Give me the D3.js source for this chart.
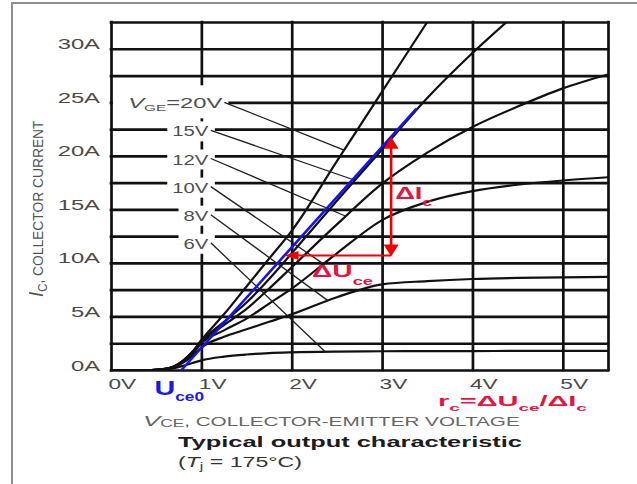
<!DOCTYPE html>
<html>
<head>
<meta charset="utf-8">
<script src="https://cdn.jsdelivr.net/npm/d3@7"></script>
<style>
  body { margin: 0; background: #fff; }
  svg { display: block; font-family: "Liberation Sans", Arial, sans-serif; }
</style>
</head>
<body>
<script>
// Collector-emitter voltage samples (V)
const vce = [0, 0.45, 0.6, 0.7, 0.8, 0.9, 1.0, 1.25, 1.5, 1.75, 2.0, 2.5, 3.0, 3.5, 4.0, 4.5, 5.0, 5.5];
// Gate-emitter voltages of the curve family (V)
const vgeLevels = [20, 15, 12, 10, 8, 6];
// Collector current for each gate voltage (A); null = beyond the chart
const ic20 = [0, 0, 0.1, 0.35, 0.9, 1.7, 2.8, 5.2, 7.8, 10.4, 13.0, 19.5, 26.0, 32.5, null, null, null, null];
const ic15 = [0, 0, 0.1, 0.33, 0.88, 1.65, 2.7, 4.5, 6.3, 8.5, 10.9, 15.8, 20.6, 25.4, 29.6, 33.4, null, null];
const ic12 = [0, 0, 0.1, 0.32, 0.85, 1.6, 2.6, 4.2, 5.7, 7.6, 9.6, 13.6, 17.4, 20.3, 22.7, 24.6, 26.3, 27.6];
const ic10 = [0, 0, 0.1, 0.3, 0.8, 1.5, 2.5, 3.7, 4.8, 6.2, 7.6, 10.9, 14.0, 15.7, 16.7, 17.3, 17.7, 18.0];
const ic8  = [0, 0, 0.08, 0.28, 0.7, 1.3, 2.1, 3.1, 3.8, 4.5, 5.2, 6.8, 8.0, 8.3, 8.5, 8.6, 8.65, 8.7];
const ic6  = [0, 0, 0.05, 0.18, 0.4, 0.65, 0.9, 1.25, 1.45, 1.58, 1.65, 1.72, 1.75, 1.76, 1.77, 1.78, 1.78, 1.78];
const curveLabels = ["=20V", "15V", "12V", "10V", "8V", "6V"];

// Axis ticks
const xTicks = [0, 1, 2, 3, 4, 5];
const yTicks = [0, 5, 10, 15, 20, 25, 30];
const xGrid = [0, 1, 2, 3, 4, 5, 5.5];
const yGrid = [0, 2.5, 5, 7.5, 10, 12.5, 15, 17.5, 20, 22.5, 25, 27.5, 30, 32.5];

// Tangent line of the 15 V curve: threshold voltage U_ce0 and upper end point
const uce0 = 0.78;
const tangentEnd = [3.38, 24.4];
// Construction of the differential resistance
const deltaBaseI = 10.7;   // A, level of the ΔUce arrow
const deltaIcAtV = 3.1;    // V, position of the ΔIc arrow

const W = 637, H = 484;
const SX = 1.7; // horizontal stretch of the lettering

const svg = d3.select("body").append("svg").attr("width", W).attr("height", H);

const x = d3.scaleLinear().domain([0, 5.5]).range([111, 608]);
const y = d3.scaleLinear().domain([0, 32.5]).range([370, 22]);

// Outer frame (top and left edge)
svg.append("path").attr("d", `M12,${H} V3 H${W}`)
  .attr("fill", "none").attr("stroke", "#8e8e8e").attr("stroke-width", 2);

// Grid
const gridColor = "#111";
const plotW = x(5.5) - x(0), plotH = y(0) - y(32.5);
const gy = svg.append("g").attr("transform", `translate(${x(0)},0)`)
  .call(d3.axisLeft(y).tickValues(yGrid).tickSize(-plotW).tickFormat(""));
const gx = svg.append("g").attr("transform", `translate(0,${y(0)})`)
  .call(d3.axisBottom(x).tickValues(xGrid).tickSize(-plotH).tickFormat(""));
[gy, gx].forEach(g => {
  g.select(".domain").remove();
  g.selectAll("line").attr("stroke", gridColor).attr("stroke-width", 2.7).attr("stroke-linecap", "square");
});

// Tick labels
const ly = svg.append("g").attr("transform", `translate(${x(0)},0)`)
  .call(d3.axisLeft(y).tickValues(yTicks).tickSize(0).tickFormat(d => d + "A"));
ly.select(".domain").remove();
ly.selectAll("text").attr("x", null).attr("dy", null)
  .attr("transform", `translate(-11,0) scale(${SX},1)`)
  .attr("font-size", 14).attr("fill", "#4a4a4a")
  .attr("font-family", "Liberation Sans, Arial, sans-serif");

const lx = svg.append("g").attr("transform", `translate(0,${y(0)})`)
  .call(d3.axisBottom(x).tickValues(xTicks).tickSize(0).tickFormat(d => d + "V"));
lx.select(".domain").remove();
lx.selectAll("text").attr("y", null).attr("dy", null).attr("text-anchor", "start")
  .attr("transform", `translate(-3,19) scale(1.62,1)`)
  .attr("font-size", 14).attr("fill", "#4a4a4a")
  .attr("font-family", "Liberation Sans, Arial, sans-serif");

// Layers
const maskLayer = svg.append("g");
const curveLayer = svg.append("g");
const leaderLayer = svg.append("g");
const labelLayer = svg.append("g");
const annoLayer = svg.append("g");

svg.append("clipPath").attr("id", "plot-clip").append("rect")
  .attr("x", x(0)).attr("y", y(32.5)).attr("width", plotW).attr("height", plotH);

const series = [ic20, ic15, ic12, ic10, ic8, ic6].map((ic, i) => ({
  vge: vgeLevels[i],
  points: vce.map((v, j) => [v, ic[j]])
}));

const line = d3.line()
  .defined(d => d[1] != null)
  .x(d => x(d[0])).y(d => y(d[1]))
  .curve(d3.curveMonotoneX);

curveLayer.attr("clip-path", "url(#plot-clip)")
  .selectAll("path").data(series).join("path")
  .attr("d", d => line(d.points))
  .attr("fill", "none").attr("stroke", "#111").attr("stroke-width", 2.2);

function currentAt(points, v) {
  const pts = points.filter(p => p[1] != null);
  const i = Math.max(1, Math.min(pts.length - 1, d3.bisector(p => p[0]).left(pts, v)));
  const a = pts[i - 1], b = pts[i];
  return a[1] + (b[1] - a[1]) * (v - a[0]) / (b[0] - a[0]);
}

// Curve labels with leader lines
const leaderTipV = [2.58, 2.7, 2.6, 2.35, 2.4, 2.37];
series.forEach((s, i) => {
  const baseY = y(25) + 6 + i * 28.1;
  const endX = i === 0 ? x(1) + 21 : x(1) + 7;
  const sx = i === 0 ? SX : 1.45;
  const t = labelLayer.append("text")
    .attr("text-anchor", "end")
    .attr("transform", `translate(${endX},${baseY}) scale(${sx},1)`)
    .attr("font-size", 14).attr("fill", "#4f4f4f");
  if (i === 0) {
    t.append("tspan").attr("font-style", "italic").text("V");
    t.append("tspan").attr("font-size", 9).attr("dy", 3).text("GE");
    t.append("tspan").attr("dy", -3).text(curveLabels[0]);
  } else {
    t.text(curveLabels[i]);
  }
  const bb = t.node().getBoundingClientRect();
  const cy = baseY - 5;
  const rx0 = i === 0 ? x(0) + 2 : bb.left - 5;
  const ry0 = i === 0 ? cy - 18 : cy - 10;
  const ry1 = i === 0 ? cy + 15 : cy + 10;
  maskLayer.append("rect")
    .attr("x", rx0).attr("y", ry0)
    .attr("width", bb.right + 6 - rx0).attr("height", ry1 - ry0)
    .attr("fill", "#fff");
  const tipV = leaderTipV[i];
  leaderLayer.append("line")
    .attr("x1", bb.right + 2).attr("y1", cy - 1)
    .attr("x2", x(tipV)).attr("y2", y(currentAt(s.points, tipV)))
    .attr("stroke", "#1e1e1e").attr("stroke-width", 1.3);
});

// Tangent line through U_ce0
const slope = tangentEnd[1] / (tangentEnd[0] - uce0);
annoLayer.append("line")
  .attr("x1", x(uce0)).attr("y1", y(0))
  .attr("x2", x(tangentEnd[0])).attr("y2", y(tangentEnd[1]))
  .attr("stroke", "#1414ea").attr("stroke-width", 2.6);

// ΔUce / ΔIc construction
const red = "#f00000";
const vLeft = uce0 + deltaBaseI / slope;
const iTop = slope * (deltaIcAtV - uce0);
const yb = y(deltaBaseI), xr = x(deltaIcAtV);
annoLayer.append("line")
  .attr("x1", x(vLeft) + 10).attr("y1", yb).attr("x2", xr).attr("y2", yb)
  .attr("stroke", red).attr("stroke-width", 1.9);
annoLayer.append("line")
  .attr("x1", xr).attr("y1", yb - 10).attr("x2", xr).attr("y2", y(iTop) + 10)
  .attr("stroke", red).attr("stroke-width", 2.6);

function head(tx, ty, dir, len, half) {
  const p = d3.path();
  if (dir === "left") { p.moveTo(tx, ty); p.lineTo(tx + len, ty - half); p.lineTo(tx + len, ty + half); }
  if (dir === "up")   { p.moveTo(tx, ty); p.lineTo(tx - half, ty + len); p.lineTo(tx + half, ty + len); }
  if (dir === "down") { p.moveTo(tx, ty); p.lineTo(tx - half, ty - len); p.lineTo(tx + half, ty - len); }
  p.closePath();
  annoLayer.append("path").attr("d", p.toString()).attr("fill", red);
}
head(x(vLeft), yb, "left", 14, 4.5);
head(xr, y(iTop), "up", 12, 7.5);
head(xr, yb + 1, "down", 12, 7.5);

// Fit a left-anchored text to a given width
function fit(t, x0, y0, width) {
  const w = t.node().getBBox().width;
  t.attr("transform", `translate(${x0},${y0}) scale(${width / w},1)`);
  return t;
}

const textRed = "#e8133f";
function subText(parent, parts, opts) {
  const t = parent.append("text").attr("font-weight", opts.weight || "normal")
    .attr("fill", opts.fill).attr("font-size", opts.size);
  parts.forEach(p => {
    const ts = t.append("tspan").text(p.s);
    if (p.size) ts.attr("font-size", p.size);
    if (p.dy) ts.attr("dy", p.dy);
    if (p.italic) ts.attr("font-style", "italic");
  });
  return t;
}

// ΔIc label
fit(subText(annoLayer, [{ s: "ΔI" }, { s: "c", size: 11, dy: 7 }],
  { weight: "bold", fill: textRed, size: 17 }), xr + 4, (yb + y(iTop)) / 2 + 3, 37);
// ΔUce label
fit(subText(annoLayer, [{ s: "ΔU" }, { s: "ce", size: 11, dy: 8 }],
  { weight: "bold", fill: textRed, size: 17 }), 312, yb + 22, 61);
// U_ce0 label
fit(subText(annoLayer, [{ s: "U" }, { s: "ce0", size: 12, dy: 6 }],
  { weight: "bold", fill: "#1a1ae6", size: 20 }), x(uce0) - 27, y(0) + 25, 50);
// r_c formula
fit(subText(annoLayer, [
  { s: "r" }, { s: "c", size: 9.5, dy: 5 }, { s: "=ΔU", dy: -5 },
  { s: "ce", size: 9.5, dy: 5 }, { s: "/ΔI", dy: -5 }, { s: "c", size: 9.5, dy: 5 }
], { weight: "bold", fill: textRed, size: 14.5 }), 438, 406, 149);

// Axis titles
fit(subText(svg, [
  { s: "V", italic: true, size: 15 }, { s: "CE", size: 10, dy: 1 },
  { s: ", COLLECTOR-EMITTER VOLTAGE", dy: -1 }
], { fill: "#666", size: 12 }), 143, 426, 377);

const yl = subText(svg, [
  { s: "I", italic: true, size: 15 }, { s: "C", size: 9, dy: 3 },
  { s: ", COLLECTOR CURRENT", dy: -3 }
], { fill: "#555", size: 11 });
{
  const w = yl.node().getBBox().width;
  yl.attr("transform", `translate(43,297) rotate(-90) scale(${177 / w},1.35)`);
}

// Chart caption
fit(subText(svg, [{ s: "Typical output characteristic" }],
  { weight: "bold", fill: "#1c1c1c", size: 15 }), 178, 447, 344);
fit(subText(svg, [
  { s: "(" }, { s: "T", italic: true }, { s: "j", size: 10, dy: 3 }, { s: " = 175°C)", dy: -3 }
], { fill: "#333", size: 15 }), 178, 467, 124);
</script>
</body>
</html>
